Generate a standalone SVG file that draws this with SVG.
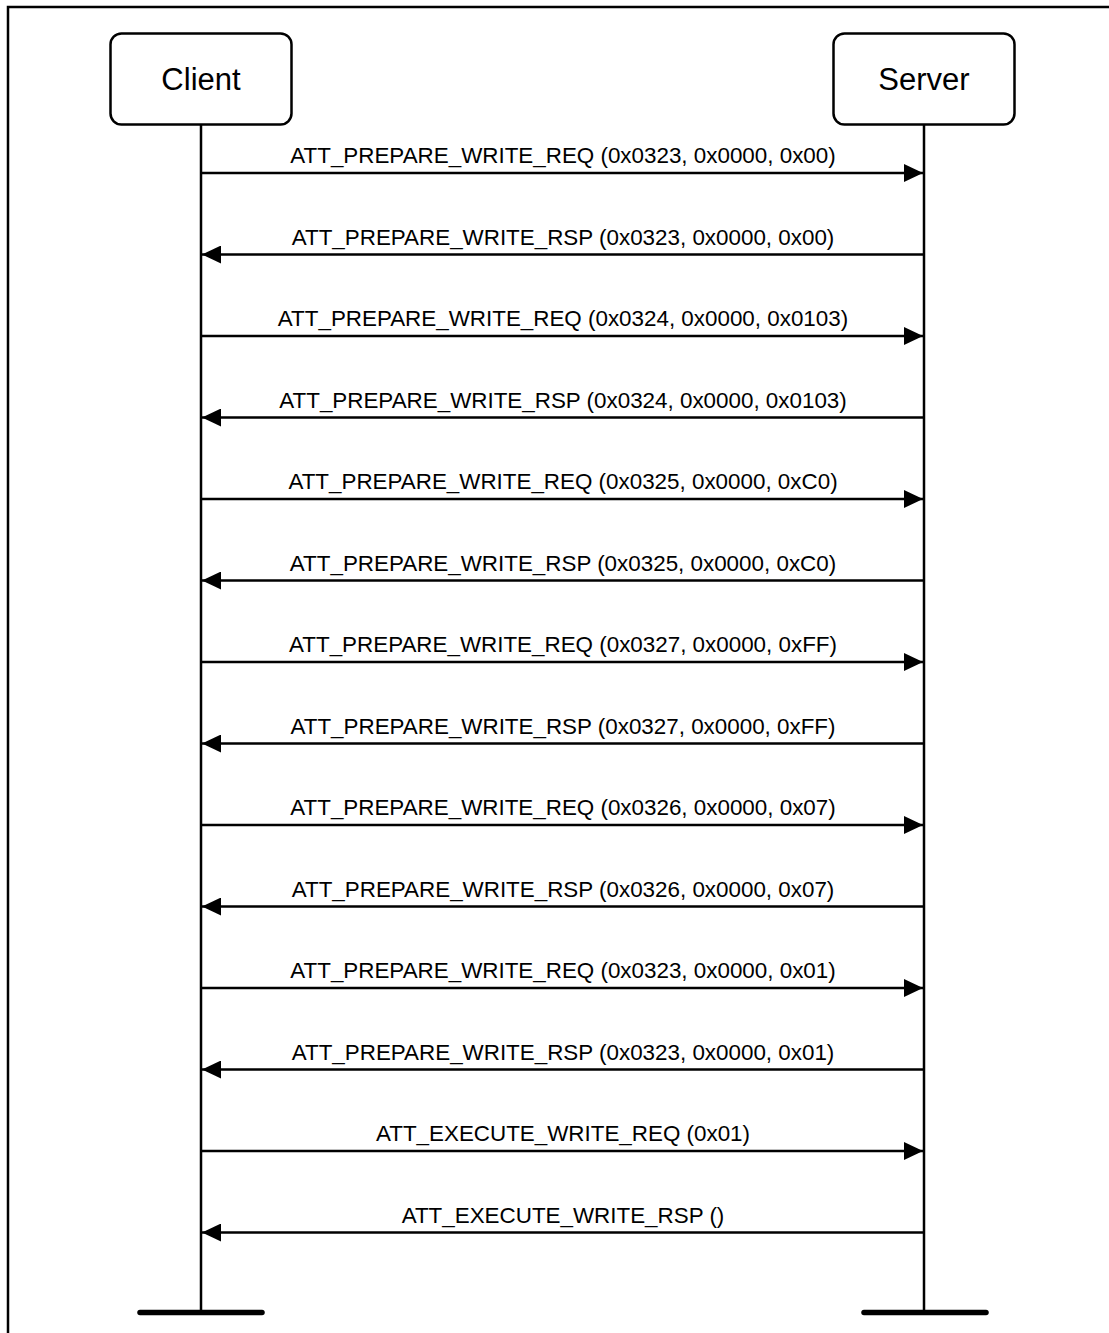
<svg xmlns="http://www.w3.org/2000/svg" width="1109" height="1333" viewBox="0 0 1109 1333">
<defs>
<style>
.box{fill:#fff;stroke:#000;stroke-width:2.5}
.life{stroke:#000;stroke-width:2.5;fill:none}
.bar{stroke:#000;stroke-width:5.5;stroke-linecap:round}
.msg{stroke:#000;stroke-width:2.5;fill:none}
.nt{font-family:"Liberation Sans",Arial,sans-serif;font-size:31px;text-anchor:middle;fill:#000}
.lt{font-family:"Liberation Sans",Arial,sans-serif;font-size:22.4px;text-anchor:middle;fill:#000}
</style>
<marker id="ah" markerUnits="userSpaceOnUse" markerWidth="20" markerHeight="18" refX="19" refY="9" orient="auto">
<path d="M0,0 L19,9 L0,18 Z" fill="#000"/>
</marker>
</defs>
<rect width="1109" height="1333" fill="#fff"/>
<path d="M8,1333 V7 H1109" fill="none" stroke="#000" stroke-width="2.5"/>
<g id="client">
<rect class="box" x="110.5" y="33.5" width="181" height="91" rx="11"/>
<text class="nt" x="201" y="90">Client</text>
<line class="life" x1="201" y1="124" x2="201" y2="1312"/>
<line class="bar" x1="140" y1="1312.5" x2="262" y2="1312.5"/>
</g>
<g id="server">
<rect class="box" x="833.5" y="33.5" width="181" height="91" rx="11"/>
<text class="nt" x="924" y="90">Server</text>
<line class="life" x1="924" y1="124" x2="924" y2="1312"/>
<line class="bar" x1="864" y1="1312.5" x2="986" y2="1312.5"/>
</g>
<g id="connectors">
<line class="msg" x1="202" y1="173" x2="923" y2="173" marker-end="url(#ah)"/>
<text class="lt" x="563" y="163">ATT_PREPARE_WRITE_REQ (0x0323, 0x0000, 0x00)</text>
<line class="msg" x1="923" y1="254.5" x2="202" y2="254.5" marker-end="url(#ah)"/>
<text class="lt" x="563" y="244.5">ATT_PREPARE_WRITE_RSP (0x0323, 0x0000, 0x00)</text>
<line class="msg" x1="202" y1="336" x2="923" y2="336" marker-end="url(#ah)"/>
<text class="lt" x="563" y="326">ATT_PREPARE_WRITE_REQ (0x0324, 0x0000, 0x0103)</text>
<line class="msg" x1="923" y1="417.5" x2="202" y2="417.5" marker-end="url(#ah)"/>
<text class="lt" x="563" y="407.5">ATT_PREPARE_WRITE_RSP (0x0324, 0x0000, 0x0103)</text>
<line class="msg" x1="202" y1="499" x2="923" y2="499" marker-end="url(#ah)"/>
<text class="lt" x="563" y="489">ATT_PREPARE_WRITE_REQ (0x0325, 0x0000, 0xC0)</text>
<line class="msg" x1="923" y1="580.5" x2="202" y2="580.5" marker-end="url(#ah)"/>
<text class="lt" x="563" y="570.5">ATT_PREPARE_WRITE_RSP (0x0325, 0x0000, 0xC0)</text>
<line class="msg" x1="202" y1="662" x2="923" y2="662" marker-end="url(#ah)"/>
<text class="lt" x="563" y="652">ATT_PREPARE_WRITE_REQ (0x0327, 0x0000, 0xFF)</text>
<line class="msg" x1="923" y1="743.5" x2="202" y2="743.5" marker-end="url(#ah)"/>
<text class="lt" x="563" y="733.5">ATT_PREPARE_WRITE_RSP (0x0327, 0x0000, 0xFF)</text>
<line class="msg" x1="202" y1="825" x2="923" y2="825" marker-end="url(#ah)"/>
<text class="lt" x="563" y="815">ATT_PREPARE_WRITE_REQ (0x0326, 0x0000, 0x07)</text>
<line class="msg" x1="923" y1="906.5" x2="202" y2="906.5" marker-end="url(#ah)"/>
<text class="lt" x="563" y="896.5">ATT_PREPARE_WRITE_RSP (0x0326, 0x0000, 0x07)</text>
<line class="msg" x1="202" y1="988" x2="923" y2="988" marker-end="url(#ah)"/>
<text class="lt" x="563" y="978">ATT_PREPARE_WRITE_REQ (0x0323, 0x0000, 0x01)</text>
<line class="msg" x1="923" y1="1069.5" x2="202" y2="1069.5" marker-end="url(#ah)"/>
<text class="lt" x="563" y="1059.5">ATT_PREPARE_WRITE_RSP (0x0323, 0x0000, 0x01)</text>
<line class="msg" x1="202" y1="1151" x2="923" y2="1151" marker-end="url(#ah)"/>
<text class="lt" x="563" y="1141">ATT_EXECUTE_WRITE_REQ (0x01)</text>
<line class="msg" x1="923" y1="1232.5" x2="202" y2="1232.5" marker-end="url(#ah)"/>
<text class="lt" x="563" y="1222.5">ATT_EXECUTE_WRITE_RSP ()</text>
</g>
</svg>
